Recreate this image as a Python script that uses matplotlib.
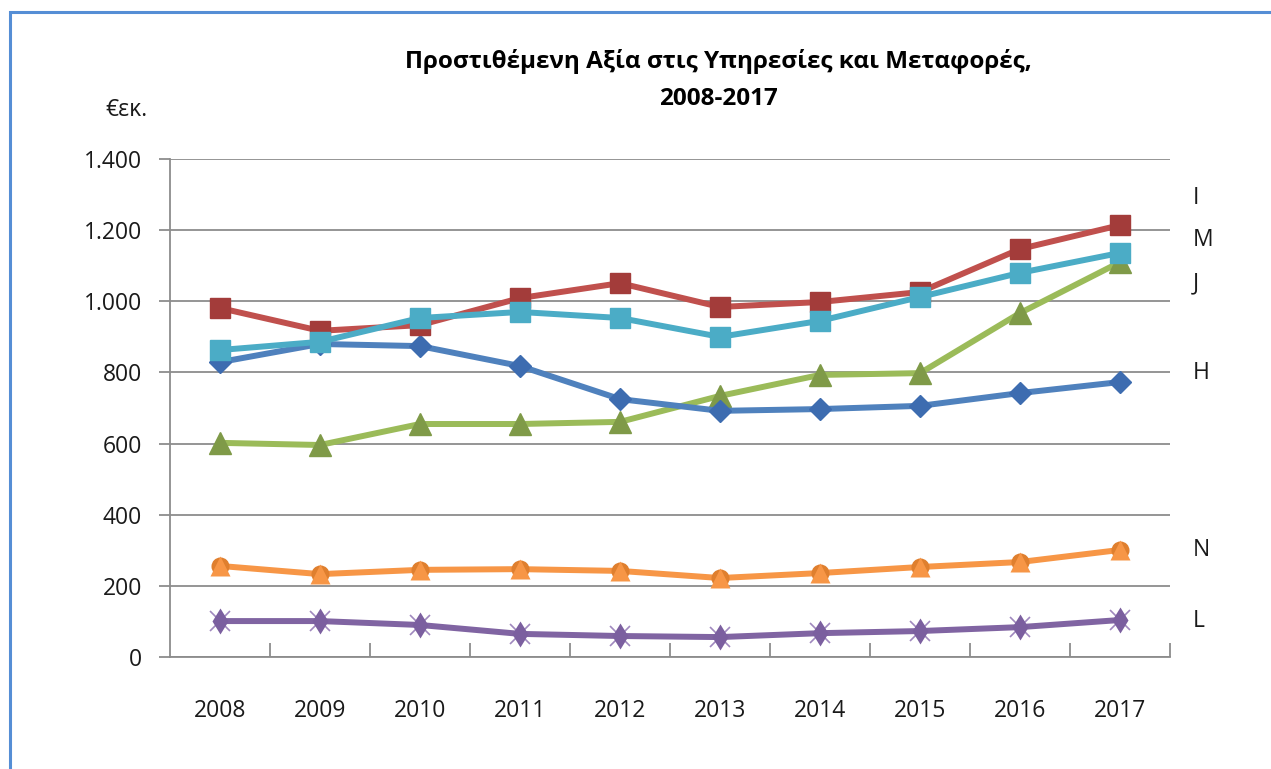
import matplotlib
matplotlib.use("Agg")
import matplotlib.pyplot as plt
from matplotlib.patches import Rectangle

# values (€ thousand)
years = [2008, 2009, 2010, 2011, 2012, 2013, 2014, 2015, 2016, 2017]
H = [829, 880, 874, 818, 725, 692, 697, 706, 742, 773]
I = [981, 917, 933, 1009, 1051, 984, 998, 1026, 1147, 1214]
M = [863, 886, 953, 970, 953, 900, 945, 1012, 1080, 1136]
J = [602, 596, 655, 655, 661, 734, 793, 798, 967, 1110]
N = [256, 233, 245, 247, 242, 222, 236, 253, 267, 301]
L = [101, 101, 90, 65, 59, 56, 67, 73, 84, 104]

end_labels = ["I", "M", "J", "H", "N", "L"]
end_label_y = [1290, 1172, 1051, 798, 300, 100]

yticks = [0, 200, 400, 600, 800, 1000, 1200, 1400]
ytick_labels = ["0", "200", "400", "600", "800", "1.000", "1.200", "1.400"]

font = "Open Sans"
plt.rcParams["font.family"] = [font, "DejaVu Sans"]

fig = plt.figure(figsize=(12.71, 7.69), dpi=100)
ax = fig.add_axes([170 / 1271, 1 - 657 / 769, 1000 / 1271, 498 / 769])

x = list(range(len(years)))
lw = 4.3

# blue frame round the chart (runs off the right and bottom edges)
fig.patches.append(Rectangle((10 / 1271, -0.05), 1.1, 1 - 12 / 769 + 0.05,
                             transform=fig.transFigure, fill=False,
                             edgecolor="#558ED5", linewidth=2.2))

# L - purple star-like marker
ax.plot(x, L, color="#8064A2", lw=lw, zorder=3)
ax.plot(x, L, ls="none", marker="x", ms=14, mew=1.2, color="#9F88BE", zorder=4)
ax.plot(x, L, ls="none", marker="d", ms=13, color="#7B5F9F", mec="none", zorder=4)

# N - orange
ax.plot(x, N, color="#F79646", lw=lw, zorder=3)
ax.plot(x, N, ls="none", marker="o", ms=13, color="#DF7F2E", mec="none", zorder=4)
ax.plot(x, N, ls="none", marker="^", ms=14, color="#F79646", mec="none", zorder=4)

# J - green triangles
ax.plot(x, J, color="#9BBB59", lw=lw, marker="^", ms=16, mfc="#7F9A48",
        mec="#7F9A48", zorder=3)

# H - blue diamonds
ax.plot(x, H, color="#4F81BD", lw=lw, marker="D", ms=11, mfc="#3D6CB0",
        mec="#3D6CB0", zorder=3)

# I - red squares
ax.plot(x, I, color="#C0504D", lw=lw, marker="s", ms=14, mfc="#A33C3A",
        mec="#A33C3A", zorder=3)

# M - aqua squares
ax.plot(x, M, color="#4BACC6", lw=lw, marker="s", ms=14, mfc="#4BACC6",
        mec="#4BACC6", zorder=3)

ax.set_xlim(-0.5, len(years) - 0.5)
ax.set_ylim(0, 1400)
ax.set_yticks(yticks)
ax.set_yticklabels(ytick_labels)
ax.set_xticks(x)
ax.set_xticklabels([str(y) for y in years])
ax.set_xticks([i + 0.5 for i in x], minor=True)

ax.grid(axis="y", color="#8C8C8C", lw=1.3)
ax.set_axisbelow(True)
for s in ["top", "right"]:
    ax.spines[s].set_visible(False)
for s in ["left", "bottom"]:
    ax.spines[s].set_color("#8C8C8C")
    ax.spines[s].set_linewidth(1.3)

ax.tick_params(axis="y", length=8, width=1.3, color="#8C8C8C", labelsize=16.5,
               pad=12, labelcolor="#1a1a1a")
ax.tick_params(axis="x", which="major", length=0, labelsize=16.5, pad=30,
               labelcolor="#1a1a1a")
ax.tick_params(axis="x", which="minor", direction="in", length=10, width=1.3,
               color="#8C8C8C")

for lab, yv in zip(end_labels, end_label_y):
    ax.text(9.73, yv, lab, fontsize=16.5, ha="left", va="center",
            color="#1a1a1a", clip_on=False)

fig.text(148 / 1271, 1 - 110 / 769, "€εκ.", fontsize=16.5, ha="right",
         va="center", color="#1a1a1a")

fig.text(718 / 1271, 1 - 61 / 769, "Προστιθέμενη Αξία στις Υπηρεσίες και Μεταφορές,",
         fontsize=17.5, fontweight="bold", ha="center", va="center")
fig.text(718 / 1271, 1 - 99 / 769, "2008-2017",
         fontsize=17.5, fontweight="bold", ha="center", va="center")

fig.savefig("out.png", dpi=100)
